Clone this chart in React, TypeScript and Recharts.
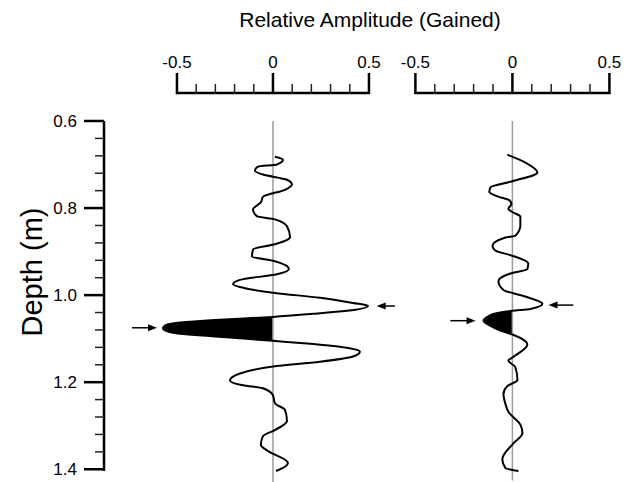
import React from "react";
import { ComposedChart, Line, Area, XAxis, YAxis, ReferenceLine } from "recharts";

// trace 1 (left panel): depth (m) and gained amplitude
const depth1 = [
  0.682, 0.689, 0.7, 0.705, 0.714, 0.723, 0.735, 0.746, 0.758, 0.774, 0.787, 0.803, 0.819, 0.826,
  0.842, 0.867, 0.872, 0.883, 0.895, 0.911, 0.922, 0.94, 0.952, 0.965, 0.975, 0.984, 0.995, 1.006,
  1.018, 1.025, 1.036, 1.043, 1.05, 1.057, 1.063, 1.07, 1.076, 1.082, 1.089, 1.095, 1.105, 1.111,
  1.121, 1.13, 1.141, 1.153, 1.164, 1.18, 1.196, 1.207, 1.214, 1.23, 1.248, 1.264, 1.289, 1.31,
  1.324, 1.344, 1.358, 1.385, 1.397, 1.404,
];
const amp1 = [
  0.01, 0.052, 0.021, -0.078, -0.094, -0.052, 0.073, 0.099, 0.063, -0.052, -0.063, -0.104, -0.083,
  0.01, 0.073, 0.089, 0.078, 0.01, -0.104, -0.109, 0.01, 0.083, 0.021, -0.172, -0.208, -0.146, 0.01,
  0.245, 0.417, 0.495, 0.385, 0.208, 0, -0.302, -0.484, -0.563, -0.573, -0.557, -0.484, -0.302, 0,
  0.177, 0.385, 0.453, 0.417, 0.245, 0, -0.172, -0.224, -0.156, -0.052, 0, 0.01, 0.063, 0.073, 0.01,
  -0.052, -0.063, -0.026, 0.078, 0.052, 0.016,
];
const lobe1 = [1.05, 1.105];

// trace 2 (right panel)
const depth2 = [
  0.678, 0.696, 0.719, 0.739, 0.753, 0.764, 0.774, 0.783, 0.792, 0.803, 0.81, 0.821, 0.842, 0.865,
  0.869, 0.888, 0.899, 0.911, 0.929, 0.942, 0.952, 0.97, 0.99, 1.004, 1.022, 1.034, 1.038, 1.043,
  1.052, 1.061, 1.073, 1.084, 1.093, 1.116, 1.146, 1.153, 1.168, 1.198, 1.212, 1.23, 1.253, 1.271,
  1.301, 1.321, 1.344, 1.381, 1.401, 1.408,
];
const amp2 = [
  -0.026, 0.067, 0.129, 0, -0.113, -0.119, -0.077, -0.015, -0.005, -0.021, 0, 0.041, 0.041, 0.015,
  -0.036, -0.103, -0.088, 0, 0.082, 0.077, -0.01, -0.072, -0.046, 0.057, 0.155, 0.093, 0, -0.077,
  -0.129, -0.149, -0.113, -0.062, 0, 0.077, 0, -0.021, 0.015, 0.026, -0.026, -0.046, -0.036, -0.021,
  0.041, 0.052, 0.005, -0.052, -0.036, 0.031,
];
const lobe2 = [1.038, 1.093];

// arrows: depth, tail amplitude, head amplitude
const arrows1 = [
  { d: 1.025, from: 0.635, to: 0.54 },
  { d: 1.075, from: -0.734, to: -0.604 },
];
const arrows2 = [
  { d: 1.025, from: 0.314, to: 0.186 },
  { d: 1.061, from: -0.32, to: -0.19 },
];

const ampTicks = [-0.5, -0.4, -0.3, -0.2, -0.1, 0, 0.1, 0.2, 0.3, 0.4, 0.5];
const ampMajor = [-0.5, 0, 0.5];
const ampLabels = ["-0.5", "0", "0.5"];
const depthTicks = [
  0.6, 0.64, 0.68, 0.72, 0.76, 0.8, 0.84, 0.88, 0.92, 0.96, 1.0, 1.04, 1.08, 1.12, 1.16, 1.2, 1.24,
  1.28, 1.32, 1.36, 1.4,
];
const depthMajor = [0.6, 0.8, 1.0, 1.2, 1.4];
const depthLabels = ["0.6", "0.8", "1.0", "1.2", "1.4"];

const FONT = '"Liberation Sans", Arial, Helvetica, sans-serif';
const HEIGHT = 482;
const PLOT_TOP = 121;
const PLOT_BOTTOM = 471;
const AXIS_Y = 93;
const Y_AXIS_X = 104;

function rows(depth: number[], amp: number[], lobe: number[]) {
  return depth.map((d, i) => ({
    d,
    a: amp[i],
    fill: d >= lobe[0] - 1e-9 && d <= lobe[1] + 1e-9 ? Math.min(amp[i], 0) : null,
  }));
}

const idx = (list: number[], v: number) => list.findIndex((m) => Math.abs(m - v) < 1e-6);

function makeAmpTick(unit: number) {
  return (props: any) => {
    const { x, payload } = props;
    const v = payload.value;
    const k = idx(ampMajor, v);
    const major = k >= 0;
    return (
      <g>
        {v === ampTicks[0] && (
          <line
            x1={x - 1}
            x2={x + unit * (ampTicks[ampTicks.length - 1] - ampTicks[0]) + 1}
            y1={AXIS_Y}
            y2={AXIS_Y}
            stroke="#000"
            strokeWidth={2.5}
          />
        )}
        <line
          x1={x}
          x2={x}
          y1={AXIS_Y + 1}
          y2={AXIS_Y - (major ? 20 : 9)}
          stroke={major ? "#000" : "#222"}
          strokeWidth={major ? 2.5 : 1.5}
        />
        {major && (
          <text x={x} y={AXIS_Y - 25} textAnchor="middle" fontSize={17} fontFamily={FONT} fill="#000">
            {ampLabels[k]}
          </text>
        )}
      </g>
    );
  };
}

const DepthTick = (props: any) => {
  const { y, payload } = props;
  const k = idx(depthMajor, payload.value);
  const major = k >= 0;
  return (
    <g>
      <line
        x1={Y_AXIS_X - (major ? 20 : 9)}
        x2={Y_AXIS_X}
        y1={y}
        y2={y}
        stroke={major ? "#000" : "#222"}
        strokeWidth={major ? 2.5 : 1.5}
      />
      {major && (
        <text x={Y_AXIS_X - 27} y={y} dy="0.36em" textAnchor="end" fontSize={17} fontFamily={FONT} fill="#000">
          {depthLabels[k]}
        </text>
      )}
    </g>
  );
};

const ArrowShape = (props: any) => {
  const { x1, y1, x2, y2 } = props;
  const dir = x2 > x1 ? 1 : -1;
  return (
    <g>
      <line x1={x1} y1={y1} x2={x2 - dir * 6} y2={y2} stroke="#000" strokeWidth={1.5} />
      <polygon points={`${x2},${y2} ${x2 - dir * 9},${y2 - 3.5} ${x2 - dir * 9},${y2 + 3.5}`} fill="#000" />
    </g>
  );
};

type PanelProps = {
  data: ReturnType<typeof rows>;
  arrows: { d: number; from: number; to: number }[];
  domain: [number, number];
  unit: number;
  left: number;
  plotLeft: number;
  width: number;
  showDepth: boolean;
};

function Panel({ data, arrows, domain, unit, left, plotLeft, width, showDepth }: PanelProps) {
  const plotWidth = unit * (domain[1] - domain[0]);
  const yAxisWidth = showDepth ? 60 : 0;
  const marginLeft = plotLeft - left - yAxisWidth;
  const marginRight = width - (plotLeft - left) - plotWidth;
  return (
    <div style={{ position: "absolute", left, top: 0 }}>
      <ComposedChart
        layout="vertical"
        width={width}
        height={HEIGHT}
        data={data}
        margin={{ top: PLOT_TOP - 30, bottom: HEIGHT - PLOT_BOTTOM, left: marginLeft, right: marginRight }}
      >
        <XAxis
          type="number"
          orientation="top"
          height={30}
          domain={domain}
          ticks={ampTicks}
          interval={0}
          axisLine={false}
          tickLine={false}
          tick={makeAmpTick(unit)}
        />
        <YAxis
          type="number"
          dataKey="d"
          domain={[0.6, 1.4]}
          hide={!showDepth}
          width={yAxisWidth}
          ticks={depthTicks}
          interval={0}
          axisLine={{ stroke: "#000", strokeWidth: 2.5 }}
          tickLine={false}
          tick={DepthTick}
        />
        <ReferenceLine
          segment={[
            { x: 0, y: 0.6 },
            { x: 0, y: 1.43 },
          ]}
          stroke="#9c9c9c"
          strokeWidth={1.5}
          ifOverflow="visible"
        />
        <Area
          type="monotone"
          dataKey="fill"
          baseValue={0}
          fill="#000"
          fillOpacity={1}
          stroke="none"
          dot={false}
          activeDot={false}
          isAnimationActive={false}
        />
        <Line
          type="monotone"
          dataKey="a"
          stroke="#000"
          strokeWidth={2}
          dot={false}
          activeDot={false}
          isAnimationActive={false}
        />
        {arrows.map((ar, i) => (
          <ReferenceLine
            key={i}
            segment={[
              { x: ar.from, y: ar.d },
              { x: ar.to, y: ar.d },
            ]}
            ifOverflow="visible"
            shape={ArrowShape}
          />
        ))}
      </ComposedChart>
    </div>
  );
}

export default function App() {
  return (
    <div
      style={{
        position: "absolute",
        left: 0,
        top: 0,
        width: 640,
        height: HEIGHT,
        background: "#fff",
        overflow: "hidden",
        fontFamily: FONT,
      }}
    >
      <Panel
        data={rows(depth1, amp1, lobe1)}
        arrows={arrows1}
        domain={[-0.88, 0.66]}
        unit={192}
        left={0}
        plotLeft={Y_AXIS_X}
        width={420}
        showDepth
      />
      <Panel
        data={rows(depth2, amp2, lobe2)}
        arrows={arrows2}
        domain={[-0.6, 0.6]}
        unit={194}
        left={380}
        plotLeft={396}
        width={260}
        showDepth={false}
      />
      <div
        style={{
          position: "absolute",
          left: 370,
          top: 8,
          transform: "translateX(-50%)",
          whiteSpace: "nowrap",
          fontSize: 21,
          lineHeight: "24px",
          color: "#000",
        }}
      >
        Relative Amplitude (Gained)
      </div>
      <div
        style={{
          position: "absolute",
          left: 32,
          top: 272,
          transform: "translate(-50%, -50%) rotate(-90deg)",
          whiteSpace: "nowrap",
          fontSize: 29,
          lineHeight: "32px",
          color: "#000",
        }}
      >
        Depth (m)
      </div>
    </div>
  );
}
